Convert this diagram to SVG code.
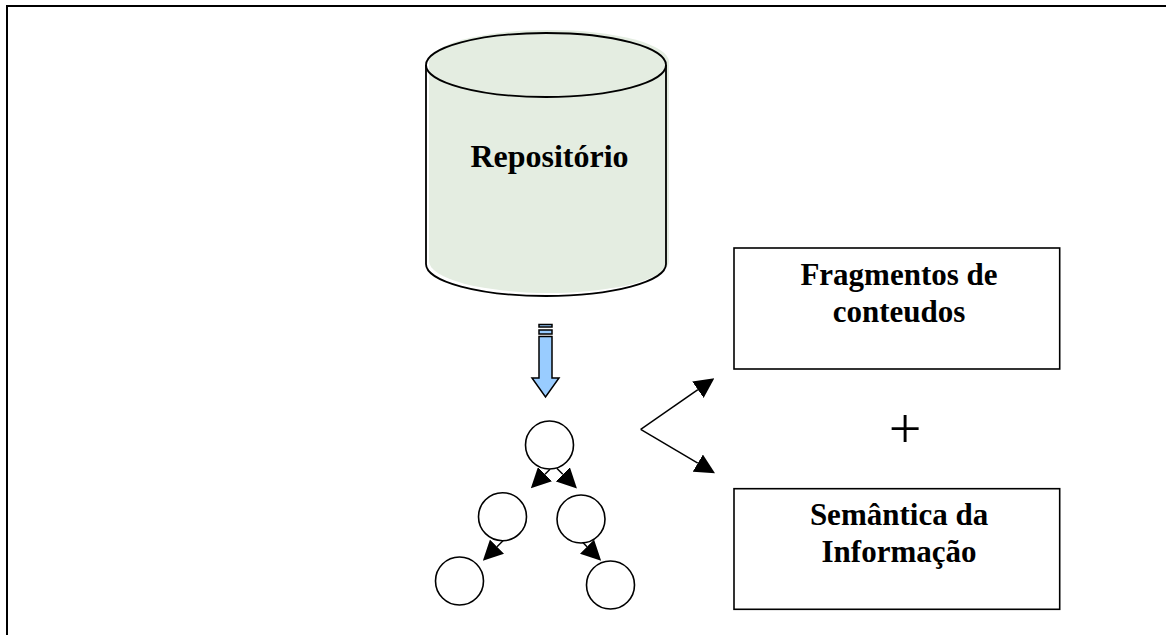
<svg xmlns="http://www.w3.org/2000/svg" width="1166" height="635" viewBox="0 0 1166 635">
  <style>
    .frame { stroke: #000; stroke-width: 2; fill: none; }
    .node-circle { fill: #fff; stroke: #000; stroke-width: 1.6; }
    .box { fill: #fff; stroke: #000; stroke-width: 1.6; }
    .edge { stroke: #000; stroke-width: 1.5; fill: none; marker-end: url(#head); }
    .label { font-family: "Liberation Serif", "Times New Roman", serif; font-weight: bold; font-size: 31px; fill: #000; text-anchor: middle; }
    .plus { font-family: "Liberation Serif", "Times New Roman", serif; font-size: 58px; fill: #000; text-anchor: middle; }
  </style>
  <defs>
    <marker id="head" markerUnits="userSpaceOnUse" markerWidth="20" markerHeight="20" refX="0" refY="10" orient="auto" viewBox="0 0 20 20">
      <path d="M0,0 L20,10 L0,20 Z" fill="#000"/>
    </marker>
  </defs>

  <rect width="1166" height="635" fill="#fff"/>

  <!-- page frame (top and left edges) -->
  <path class="frame" d="M7,635 L7,6 L1166,6"/>

  <!-- repository cylinder -->
  <g id="repositorio">
    <path d="M426,65 A120,32 0 0 1 666,65 L666,264 A120,32 0 0 1 426,264 Z" fill="#e4ede1" transform="translate(3,-3)"/>
    <path d="M426,65 L426,264 A120,32 0 0 0 666,264 L666,65" fill="none" stroke="#000" stroke-width="1.8"/>
    <ellipse cx="546" cy="65" rx="120" ry="32" fill="none" stroke="#000" stroke-width="1.8"/>
    <text class="label" x="549.5" y="167" style="font-size:32px">Repositório</text>
  </g>

  <!-- striped block arrow -->
  <g id="seta-bloco" stroke="#000" stroke-width="1.5" fill="#99ccff">
    <rect x="539" y="324.5" width="13" height="2.5"/>
    <rect x="539" y="330" width="13" height="4"/>
    <path d="M539,336.5 L552,336.5 L552,378 L559,378 L545.5,397 L532,378 L539,378 Z"/>
  </g>

  <!-- tree of nodes -->
  <g id="no-raiz"><circle class="node-circle" cx="549.5" cy="445" r="24"/></g>
  <g id="no-esq"><circle class="node-circle" cx="502.5" cy="516.7" r="24"/></g>
  <g id="no-dir"><circle class="node-circle" cx="581" cy="519" r="24"/></g>
  <g id="no-esq-folha"><circle class="node-circle" cx="459.5" cy="581" r="24"/></g>
  <g id="no-dir-folha"><circle class="node-circle" cx="610.5" cy="585" r="24"/></g>

  <!-- output boxes -->
  <g id="fragmentos">
    <rect class="box" x="734" y="248" width="325.7" height="121"/>
    <text class="label" x="899" y="285">Fragmentos de</text>
    <text class="label" x="899" y="321.7">conteudos</text>
  </g>
  <g id="semantica">
    <rect class="box" x="734" y="488.7" width="325.7" height="120.6"/>
    <text class="label" x="899" y="525">Semântica da</text>
    <text class="label" x="899" y="561.7">Informação</text>
  </g>
  <g id="mais">
    <text class="plus" x="905" y="447.5">+</text>
  </g>

  <!-- connectors -->
  <g id="conectores">
    <line class="edge" x1="550" y1="469.2" x2="545" y2="474.2"/>
    <line class="edge" x1="556.8" y1="468.3" x2="562.8" y2="474.3"/>
    <line class="edge" x1="503" y1="540.7" x2="497" y2="546.7"/>
    <line class="edge" x1="582.6" y1="542.3" x2="587" y2="546.7"/>
    <line class="edge" x1="640.7" y1="429.3" x2="697.9" y2="389.7"/>
    <line class="edge" x1="640.7" y1="429.3" x2="697.8" y2="463.1"/>
  </g>
</svg>
